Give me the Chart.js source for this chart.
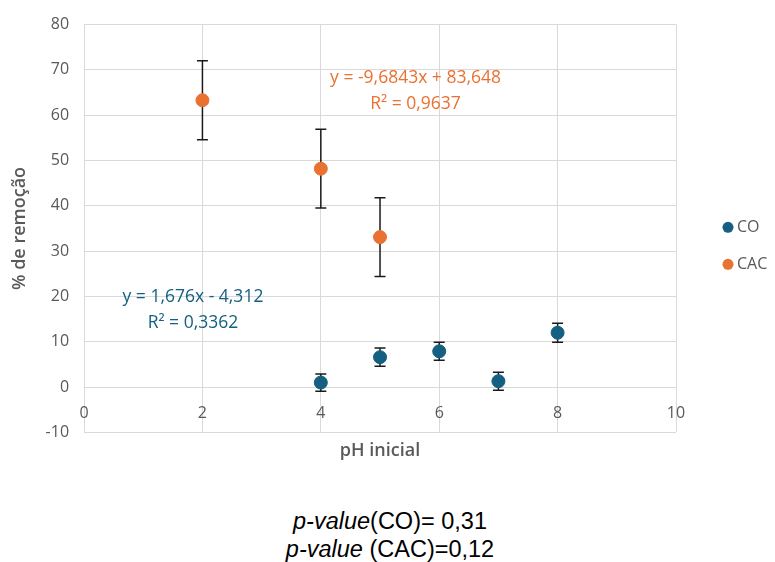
<!DOCTYPE html>
<html>
<head>
<meta charset="utf-8">
<script src="https://cdn.jsdelivr.net/npm/chart.js@4/dist/chart.umd.min.js"></script>
<style>
  body { margin: 0; background: #fff; width: 775px; height: 562px; position: relative; overflow: hidden; }
  #wrap { position: absolute; left: 0; top: 0; width: 775px; height: 475px; }
  .pv { position: absolute; left: 0; width: 780px; text-align: center; font-family: "Liberation Sans", Arial, sans-serif; font-size: 23.5px; line-height: 28px; color: #000; }
</style>
</head>
<body>
<div id="wrap"><canvas id="chart"></canvas></div>
<div class="pv" style="top:507px"><i>p-value</i>(CO)= 0,31</div>
<div class="pv" style="top:535px"><i>p-value</i> (CAC)=0,12</div>
<script>
const phCO = [4, 5, 6, 7, 8];
const remCO = [1.0, 6.6, 7.9, 1.3, 12.0];
const errCO = [1.9, 2.0, 2.0, 2.0, 2.1];

const phCAC = [2, 4, 5];
const remCAC = [63.3, 48.2, 33.1];
const errCAC = [8.7, 8.7, 8.7];

const xTicks = [0, 2, 4, 6, 8, 10];
const yTicks = [-10, 0, 10, 20, 30, 40, 50, 60, 70, 80];

const eqCO = ['y = 1,676x - 4,312', 'R² = 0,3362'];
const eqCAC = ['y = -9,6843x + 83,648', 'R² = 0,9637'];

const blue = '#156082';
const orange = '#E97132';
const gray = '#595959';
const gridColor = '#D9D9D9';
const font = '"Open Sans"';

// error bars drawn under the markers
const errorBars = {
  id: 'errorBars',
  beforeDatasetsDraw(chart) {
    const ctx = chart.ctx;
    const y = chart.scales.y;
    ctx.save();
    ctx.strokeStyle = '#1a1a1a';
    ctx.lineWidth = 1.5;
    chart.data.datasets.forEach((ds, i) => {
      const meta = chart.getDatasetMeta(i);
      meta.data.forEach((pt, j) => {
        const v = ds.data[j].y;
        const e = ds.errors[j];
        const top = y.getPixelForValue(v + e);
        const bot = y.getPixelForValue(v - e);
        ctx.beginPath();
        ctx.moveTo(pt.x, top); ctx.lineTo(pt.x, bot);
        ctx.moveTo(pt.x - 5.5, top); ctx.lineTo(pt.x + 5.5, top);
        ctx.moveTo(pt.x - 5.5, bot); ctx.lineTo(pt.x + 5.5, bot);
        ctx.stroke();
      });
    });
    ctx.restore();
  }
};

// trendline equation labels
const eqLabels = {
  id: 'eqLabels',
  afterDatasetsDraw(chart) {
    const ctx = chart.ctx;
    const xs = chart.scales.x, ys = chart.scales.y;
    ctx.save();
    ctx.font = '17.5px ' + font;
    ctx.textAlign = 'center';
    ctx.textBaseline = 'middle';
    const put = (lines, cx, cy, color) => {
      ctx.fillStyle = color;
      const px = xs.getPixelForValue(cx);
      const py = ys.getPixelForValue(cy);
      lines.forEach((t, k) => ctx.fillText(t, px, py + k * 26));
    };
    put(eqCAC, 5.6, 68.3, orange);
    put(eqCO, 1.84, 19.8, blue);
    ctx.restore();
  }
};

// legend on the right, like Excel's
const sideLegend = {
  id: 'sideLegend',
  afterDraw(chart) {
    const ctx = chart.ctx;
    const a = chart.chartArea;
    const x0 = a.right + 52;
    const y0 = a.top + (a.bottom - a.top) * 0.497;
    ctx.save();
    ctx.font = '16px ' + font;
    ctx.textBaseline = 'middle';
    chart.data.datasets.forEach((ds, i) => {
      const yy = y0 + i * 37;
      ctx.fillStyle = ds.backgroundColor;
      ctx.beginPath();
      ctx.arc(x0, yy, 5.5, 0, Math.PI * 2);
      ctx.fill();
      ctx.fillStyle = gray;
      ctx.fillText(ds.label, x0 + 9, yy);
    });
    ctx.restore();
  }
};

new Chart(document.getElementById('chart'), {
  type: 'scatter',
  data: {
    datasets: [
      {
        label: 'CO',
        data: phCO.map((x, i) => ({ x: x, y: remCO[i] })),
        errors: errCO,
        backgroundColor: blue,
        borderColor: blue,
        pointRadius: 6.5,
        pointHoverRadius: 6.5
      },
      {
        label: 'CAC',
        data: phCAC.map((x, i) => ({ x: x, y: remCAC[i] })),
        errors: errCAC,
        backgroundColor: orange,
        borderColor: orange,
        pointRadius: 6.5,
        pointHoverRadius: 6.5
      }
    ]
  },
  options: {
    responsive: true,
    maintainAspectRatio: false,
    animation: false,
    layout: { padding: { top: 7, left: 5, right: 99, bottom: 9 } },
    plugins: {
      legend: { display: false },
      tooltip: { enabled: false }
    },
    scales: {
      x: {
        type: 'linear',
        min: 0,
        max: 10,
        afterBuildTicks: axis => { axis.ticks = xTicks.map(v => ({ value: v })); },
        ticks: { display: false },
        grid: { color: gridColor, drawTicks: false },
        border: { display: false },
        title: {
          display: true,
          text: 'pH inicial',
          color: gray,
          font: { family: font, size: 18, weight: '600' },
          padding: { top: 8 }
        }
      },
      xLabels: {
        type: 'linear',
        axis: 'x',
        position: { y: 0 },
        min: 0,
        max: 10,
        afterBuildTicks: axis => { axis.ticks = xTicks.map(v => ({ value: v })); },
        ticks: { color: gray, font: { family: font, size: 16 }, padding: 9 },
        grid: { display: false },
        border: { display: false }
      },
      y: {
        min: -10,
        max: 80,
        afterBuildTicks: axis => { axis.ticks = yTicks.map(v => ({ value: v })); },
        ticks: { color: gray, font: { family: font, size: 16 }, padding: 15 },
        grid: { color: gridColor, drawTicks: false },
        border: { display: false },
        title: {
          display: true,
          text: '% de remoção',
          color: gray,
          font: { family: font, size: 18, weight: '600' },
          padding: { bottom: 0 }
        }
      }
    }
  },
  plugins: [errorBars, eqLabels, sideLegend]
});
</script>
</body>
</html>
